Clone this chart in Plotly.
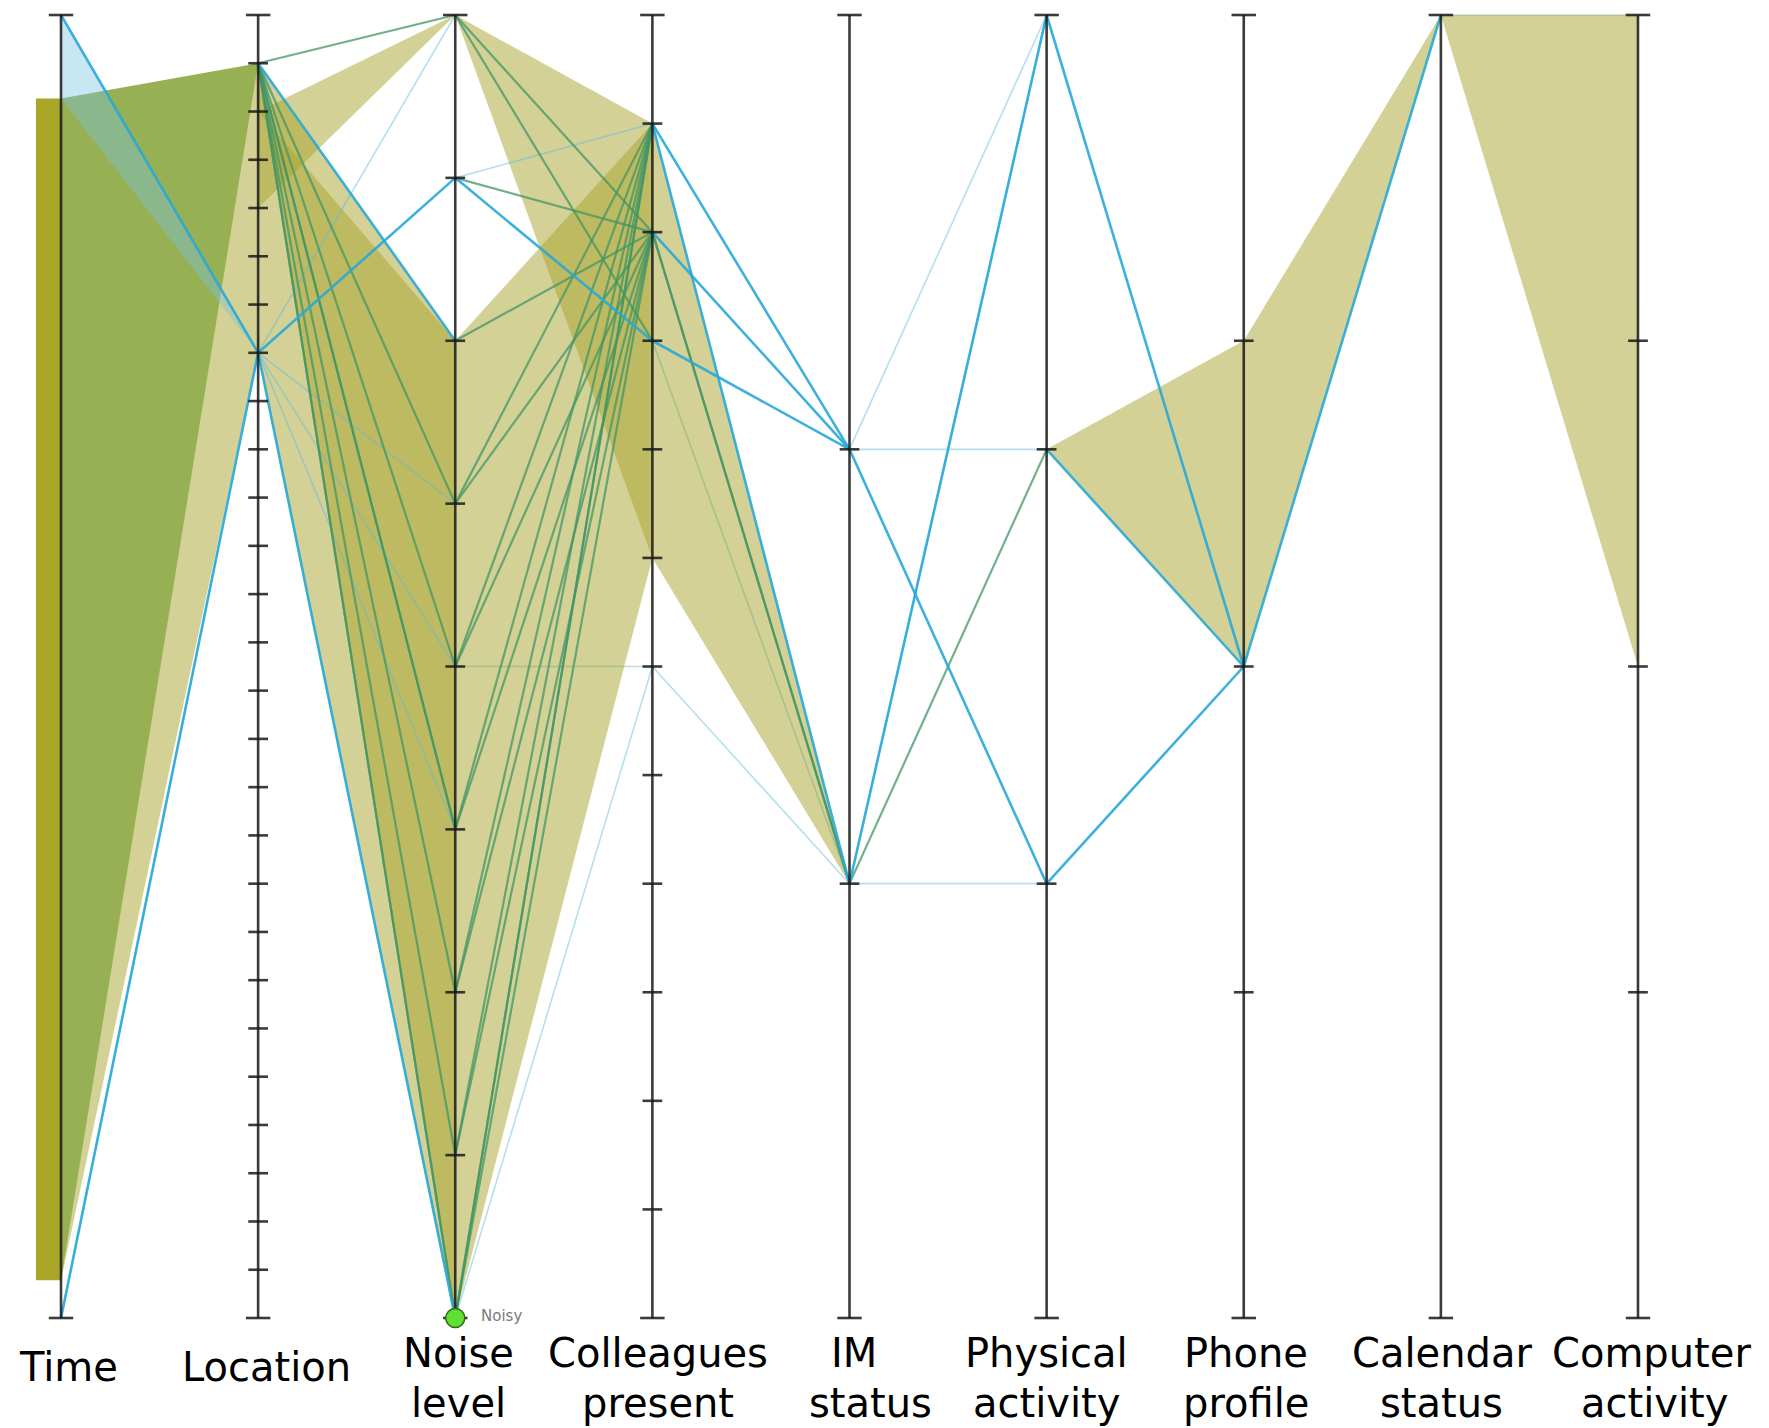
import plotly.graph_objects as go

# ---------------- data ----------------
axis_names = ["Time", "Location", "Noise level", "Colleagues present", "IM status",
              "Physical activity", "Phone profile", "Calendar status", "Computer activity"]
# label lines for each axis
axis_label_lines = [["Time"], ["Location"], ["Noise", "level"], ["Colleagues", "present"],
                    ["IM", "status"], ["Physical", "activity"], ["Phone", "profile"],
                    ["Calendar", "status"], ["Computer", "activity"]]
label_xshift = [[7], [8], [3, 3], [6, 6], [4, 21], [0, 0], [2, 2], [1, 1], [14, 17]]
# number of category steps on each axis (Time is continuous: 1 step = whole day)
axis_steps = [1, 27, 8, 12, 3, 3, 4, 1, 4]

# selected time window on the Time axis (fraction of the axis, measured from the top)
time_window = [0.064, 0.971]

# olive bands: (gap index, left from, left to, right from, right to, style)
# levels are category positions counted from the top of each axis
bands = [
    (0, 0.064, 0.971, 1, 7, "khaki"),
    (0, 0.064, 0.971, 1, 1, "green"),
    (0, 0.0, 0.064, 7, 7, "sky"),
    (1, 2, 4, 0, 0, "khaki"),
    (1, 1, 7, 2, 8, "khaki"),
    (1, 2, 1, 2, 8, "khaki"),
    (2, 0, 0, 1, 5, "khaki"),
    (2, 2, 8, 1, 5, "khaki"),
    (3, 1, 5, 2, 2, "khaki"),
    (5, 1, 1, 1, 2, "khaki"),
    (6, 1, 2, 0, 0, "khaki"),
    (7, 0, 0, 0, 2, "khaki"),
]

# record segments between neighbouring axes: (gap index, left level, right level, style)
segments = [
    (0, 0.0, 7, "blue"), (0, 1.0, 7, "blue"), (0, 1.0, 7, "light"),
    (1, 1, 0, "green"), (1, 1, 2, "blue"), (1, 7, 1, "blue"), (1, 7, 0, "light"),
    (1, 7, 8, "blue"), (1, 7, 8, "light"), (1, 7, 3, "light"), (1, 7, 4, "light"), (1, 7, 5, "light"),
    (1, 1, 3, "green"), (1, 1, 4, "green"), (1, 1, 5, "green"), (1, 1, 6, "green"),
    (1, 1, 7, "green"), (1, 1, 8, "green"), (1, 1, 5, "green"), (1, 1, 8, "green"),
    (2, 0, 2, "green"), (2, 0, 3, "green"), (2, 1, 1, "light"), (2, 1, 2, "green"), (2, 1, 3, "blue"),
    (2, 2, 2, "green"), (2, 3, 1, "green"), (2, 3, 2, "green"), (2, 4, 1, "green"), (2, 4, 2, "green"),
    (2, 4, 6, "faint"), (2, 5, 1, "green"), (2, 5, 2, "green"), (2, 6, 1, "green"), (2, 6, 2, "green"),
    (2, 7, 1, "green"), (2, 7, 2, "green"), (2, 8, 1, "green"), (2, 8, 2, "green"), (2, 8, 1, "green"),
    (2, 8, 6, "light"),
    (3, 1, 1, "blue"), (3, 1, 2, "blue"), (3, 2, 1, "blue"), (3, 2, 2, "green"), (3, 2, 2, "green"),
    (3, 3, 1, "blue"), (3, 3, 2, "faint"), (3, 6, 2, "light"),
    (4, 1, 0, "light"), (4, 1, 1, "light"), (4, 1, 2, "blue"), (4, 2, 0, "blue"), (4, 2, 0, "light"),
    (4, 2, 1, "green"), (4, 2, 2, "light"),
    (5, 0, 2, "blue"), (5, 1, 2, "blue"), (5, 2, 2, "blue"),
    (6, 2, 0, "blue"),
    (7, 0, 0, "faint"),
]

highlight_axis = 2          # Noise level
highlight_level = 8         # "Noisy"
highlight_text = "Noisy"

# ---------------- styles ----------------
band_fill = {
    "khaki": "rgba(168,163,45,0.5)",
    "green": "rgba(100,150,30,0.55)",
    "sky": "rgba(120,195,225,0.4)",
}
line_style = {
    "blue": dict(color="rgba(40,168,215,0.9)", width=2.6),
    "light": dict(color="rgba(90,185,225,0.45)", width=1.6),
    "green": dict(color="rgba(65,150,100,0.75)", width=2.2),
    "faint": dict(color="rgba(90,160,120,0.35)", width=1.6),
}


def yv(axis, level):
    return 1 - level / axis_steps[axis]


fig = go.Figure()

# brush bar on the Time axis
bw = 0.127
fig.add_trace(go.Scatter(
    x=[-bw, 0, 0, -bw, -bw],
    y=[yv(0, time_window[0]), yv(0, time_window[0]), yv(0, time_window[1]), yv(0, time_window[1]), yv(0, time_window[0])],
    mode="lines", fill="toself", fillcolor="rgba(163,158,22,0.92)", line=dict(width=0),
    hoverinfo="skip", showlegend=False))

for g, l0, l1, r0, r1, st in bands:
    xs = [g, g + 1, g + 1, g, g]
    ys = [yv(g, l0), yv(g + 1, r0), yv(g + 1, r1), yv(g, l1), yv(g, l0)]
    fig.add_trace(go.Scatter(x=xs, y=ys, mode="lines", fill="toself",
                             fillcolor=band_fill[st], line=dict(width=0),
                             hoverinfo="skip", showlegend=False))

for st in ["faint", "light", "green", "blue"]:
    xs, ys = [], []
    for g, a, b, s in segments:
        if s != st:
            continue
        xs += [g, g + 1, None]
        ys += [yv(g, a), yv(g + 1, b), None]
    fig.add_trace(go.Scatter(x=xs, y=ys, mode="lines", line=line_style[st],
                             hoverinfo="skip", showlegend=False))

# axes with tick marks
ax_x, ax_y, tk_x, tk_y = [], [], [], []
cap = 0.062
tick = 0.05
for i, n in enumerate(axis_steps):
    ax_x += [i, i, None]
    ax_y += [1, 0, None]
    for k in range(n + 1):
        h = cap if k in (0, n) else tick
        tk_x += [i - h, i + h, None]
        tk_y += [yv(i, k), yv(i, k), None]
fig.add_trace(go.Scatter(x=ax_x, y=ax_y, mode="lines",
                         line=dict(color="rgba(25,25,25,0.85)", width=2.6),
                         hoverinfo="skip", showlegend=False))
fig.add_trace(go.Scatter(x=tk_x, y=tk_y, mode="lines",
                         line=dict(color="rgba(25,25,25,0.85)", width=2.6),
                         hoverinfo="skip", showlegend=False))

# highlighted category marker
fig.add_trace(go.Scatter(x=[highlight_axis], y=[yv(highlight_axis, highlight_level)], mode="markers",
                         marker=dict(size=19, color="#62e032", line=dict(color="#2f6a14", width=1.5)),
                         hoverinfo="skip", showlegend=False))
fig.add_annotation(x=highlight_axis, y=yv(highlight_axis, highlight_level), text=highlight_text,
                   showarrow=False, xanchor="left", yanchor="middle", xshift=24, yshift=2,
                   font=dict(family="DejaVu Sans", size=15, color="#7a7a7a"))

# axis labels (one annotation per line)
y_single = -0.0376
y_lines = [-0.02686, -0.06523]
for i, lines in enumerate(axis_label_lines):
    for j, txt in enumerate(lines):
        yy = y_single if len(lines) == 1 else y_lines[j]
        fig.add_annotation(x=i, y=yy, text=txt, showarrow=False,
                           xanchor="center", yanchor="middle", xshift=label_xshift[i][j],
                           font=dict(family="DejaVu Sans", size=40, color="#000000"))

# figure is placed by the page with an 8px body margin; ranges account for it
fig.update_layout(
    width=1761, height=1420, margin=dict(l=0, r=0, t=0, b=0),
    paper_bgcolor="white", plot_bgcolor="white",
    xaxis=dict(range=[-0.2689, 8.6646], visible=False, fixedrange=True),
    yaxis=dict(range=[-0.08442, 1.00537], visible=False, fixedrange=True),
    showlegend=False,
)

fig.write_html("out.html")
